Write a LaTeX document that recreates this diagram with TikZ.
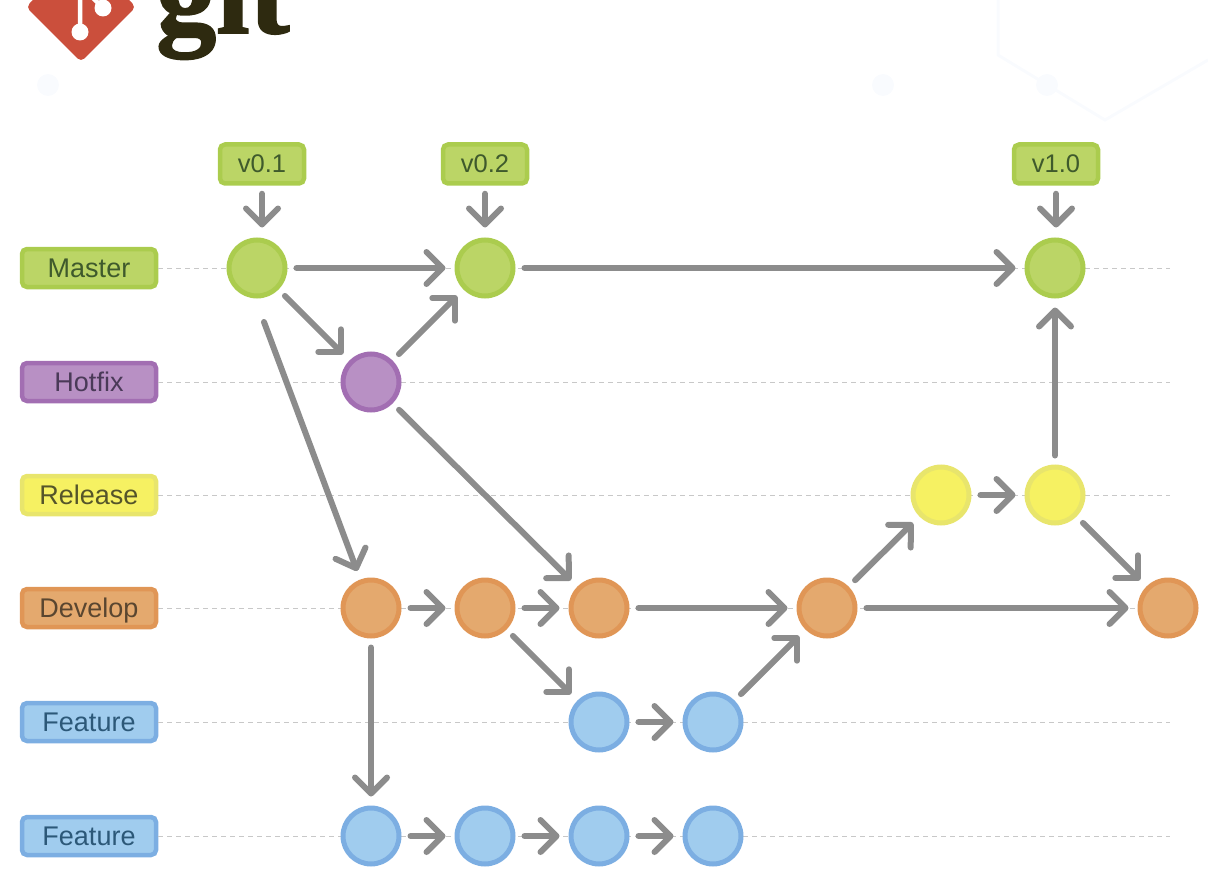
\documentclass[tikz,border=0pt]{standalone}
\usepackage{fontspec}
\setmainfont{Liberation Sans}
\newfontfamily\logofont{Liberation Serif}[BoldFeatures={FakeBold=1.5}]
\usetikzlibrary{arrows.meta}
\definecolor{greenfill}{HTML}{BBD566}
\definecolor{greenline}{HTML}{ABCC4E}
\definecolor{greentext}{HTML}{3F5A2C}
\definecolor{purplefill}{HTML}{B890C4}
\definecolor{purpleline}{HTML}{A26EB2}
\definecolor{purpletext}{HTML}{4A3A58}
\definecolor{yellowfill}{HTML}{F6F162}
\definecolor{yellowline}{HTML}{E8E56C}
\definecolor{yellowtext}{HTML}{55552A}
\definecolor{orangefill}{HTML}{E4A96E}
\definecolor{orangeline}{HTML}{E09656}
\definecolor{orangetext}{HTML}{5A4630}
\definecolor{bluefill}{HTML}{A0CCEE}
\definecolor{blueline}{HTML}{7CAEE2}
\definecolor{bluetext}{HTML}{2C5878}
\definecolor{arrowgrey}{HTML}{8C8C8C}
\definecolor{guidegrey}{HTML}{C8C8C8}
\definecolor{logored}{HTML}{CB4F3C}
\definecolor{logotext}{HTML}{2E2A10}
\definecolor{faintblue}{HTML}{F9FBFE}
\tikzset{
    commit/.style={circle, inner sep=0pt, minimum size=56pt, line width=5pt, draw=#1line, fill=#1fill},
    branch/.style={rectangle, rounded corners=5pt, inner sep=0pt, minimum width=134pt, minimum height=38pt, line width=4.5pt, draw=#1line, fill=#1fill, text=#1text, text height=20pt, text depth=2pt, font=\fontsize{27}{30}\selectfont},
    tag/.style={branch=green, minimum width=84pt, minimum height=39pt, font=\fontsize{25.5}{30}\selectfont},
    guide/.style={guidegrey, line width=1pt, dash pattern=on 5pt off 4pt},
    flow/.style={arrowgrey, line width=6pt, line cap=round, -{Straight Barb[round, length=16pt, width=32pt]}, shorten <=9pt, shorten >=9pt},
    pointer/.style={flow, shorten <=8pt, shorten >=10pt}
}
\begin{document}
\begin{tikzpicture}[x=1pt, y=-1pt]
    \useasboundingbox (0,0) rectangle (1208,880);
    \clip (0,0) rectangle (1208,880);
    % faint background
    \draw[faintblue, line width=3pt] (998,0) -- (998,55) -- (1105,120) -- (1208,60);
    \fill[faintblue] (883,85) circle [radius=11] (1047,85) circle [radius=11] (48,85) circle [radius=11];
    % logo
    \fill[logored, rounded corners=5pt] (26,7) -- (81,-48) -- (136,7) -- (81,62) -- cycle;
    \draw[white, line width=4.5pt] (80,-2) -- (80,32) (93,-2) -- (103,8);
    \fill[white] (80,32) circle [radius=8.5] (103,8) circle [radius=8.5];
    \node[logotext, anchor=base west, inner sep=0pt, font=\logofont\bfseries\fontsize{120}{120}\selectfont] (logo) at (156,33) {git};
    % branch labels and their guide lines
    \foreach \name/\txt/\col/\y in {master/Master/green/268, hotfix/Hotfix/purple/382, release/Release/yellow/495, develop/Develop/orange/608, featurea/Feature/blue/722, featureb/Feature/blue/836} {
        \node[branch=\col] (\name) at (89,\y) {\txt};
        \coordinate (\name end) at (1170,\y);
        \draw[guide] (\name) -- (\name end);
    }
    % commits
    \foreach \name/\col/\x/\y in {m1/green/257/268, m2/green/485/268, m3/green/1055/268,
        h1/purple/371/382,
        r1/yellow/941/495, r2/yellow/1055/495,
        d1/orange/371/608, d2/orange/485/608, d3/orange/599/608, d4/orange/827/608, d5/orange/1168/608,
        a1/blue/599/722, a2/blue/713/722,
        b1/blue/371/836, b2/blue/485/836, b3/blue/599/836, b4/blue/713/836}
        \node[commit=\col] (\name) at (\x,\y) {};
    % version tags
    \foreach \name/\txt/\x/\target in {v1/v0.1/262/m1, v2/v0.2/485/m2, v3/v1.0/1056/m3} {
        \node[tag] (\name) at (\x,164) {\txt};
        \draw[pointer] (\name.south) -- (\name.south |- \target.north);
    }
    % merges and commits in order
    \foreach \from/\to in {m1/m2, m2/m3, m1/h1, h1/m2, h1/d3, d1/d2, d2/d3, d3/d4, d4/d5,
        d2/a1, a1/a2, a2/d4, d4/r1, r1/r2, r2/m3, r2/d5, d1/b1, b1/b2, b2/b3, b3/b4}
        \draw[flow] (\from) -- (\to);
    \coordinate (m1out) at (264,322);
    \draw[flow, shorten <=0pt] (m1out) -- (d1);
\end{tikzpicture}
\end{document}
